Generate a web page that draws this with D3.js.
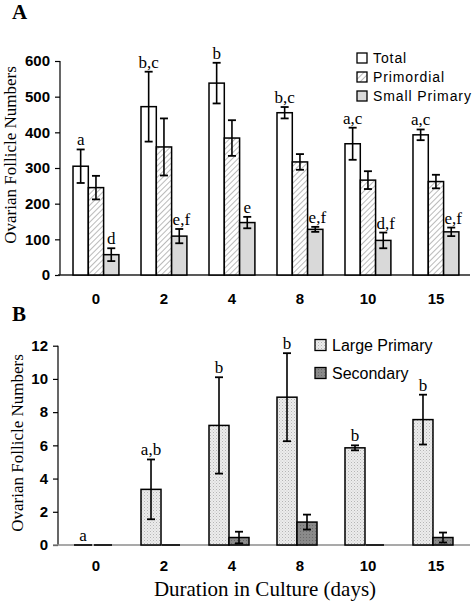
<!DOCTYPE html>
<html><head><meta charset="utf-8">
<script src="https://cdn.jsdelivr.net/npm/d3@7"></script>
<style>
body{margin:0;background:#fff;}
svg{display:block;}
</style></head>
<body><div id="chart"></div>
<script>
const days = ["0","2","4","8","10","15"];
// Panel A
const total = [305, 472, 538, 455, 368, 393];
const totalErr = [47, 98, 57, 16, 45, 15];
const primordial = [245, 359, 384, 317, 266, 262];
const primordialErr = [33, 80, 50, 22, 25, 19];
const smallPrimary = [57, 109, 147, 128, 97, 121];
const smallPrimaryErr = [18, 20, 16, 7, 22, 12];
const totalLabels = ["a","b,c","b","b,c","a,c","a,c"];
const smallLabels = ["d","e,f","e","e,f","d,f","e,f"];
const ticksA = [0,100,200,300,400,500,600];
// Panel B
const largePrimary = [0, 3.35, 7.2, 8.9, 5.85, 7.55];
const largePrimaryErr = [0, 1.8, 2.9, 2.65, 0.15, 1.5];
const secondary = [0, 0, 0.45, 1.38, 0, 0.45];
const secondaryErr = [0, 0, 0.35, 0.45, 0, 0.3];
const largeLabels = ["a","a,b","b","b","b","b"];
const ticksB = [0,2,4,6,8,10,12];

const W = 476, H = 606;
const svg = d3.select("#chart").append("svg").attr("width", W).attr("height", H);
const serif = '"Liberation Serif","Times New Roman",serif';
const sans = '"Liberation Sans",Arial,sans-serif';

const defs = svg.append("defs");
const hatch = defs.append("pattern").attr("id","hatch").attr("patternUnits","userSpaceOnUse")
  .attr("width",4).attr("height",4).attr("patternTransform","rotate(45)");
hatch.append("rect").attr("width",4).attr("height",4).attr("fill","#fff");
hatch.append("line").attr("x1",0).attr("y1",0).attr("x2",0).attr("y2",4).attr("stroke","#8c8c8c").attr("stroke-width",1.2);
const dots = defs.append("pattern").attr("id","dots").attr("patternUnits","userSpaceOnUse").attr("width",3).attr("height",3);
dots.append("rect").attr("width",3).attr("height",3).attr("fill","#ececec");
dots.append("rect").attr("x",0).attr("y",0).attr("width",1).attr("height",1).attr("fill","#b5b5b5");
dots.append("rect").attr("x",1.5).attr("y",1.5).attr("width",1).attr("height",1).attr("fill","#c8c8c8");
const dark = defs.append("pattern").attr("id","dark").attr("patternUnits","userSpaceOnUse").attr("width",3).attr("height",3);
dark.append("rect").attr("width",3).attr("height",3).attr("fill","#8a8a8a");
dark.append("rect").attr("x",0).attr("y",0).attr("width",1).attr("height",1).attr("fill","#6a6a6a");

const x = d3.scaleBand().domain(days).range([62, 470]).paddingInner(0.3235).paddingOuter(0.162);

function panel(cfg){
  const g = svg.append("g");
  const y = d3.scaleLinear().domain(cfg.domain).range(cfg.range);
  // y axis
  const ax = g.append("g").attr("transform",`translate(${cfg.axisX},0)`)
    .call(d3.axisLeft(y).tickValues(cfg.ticks).tickSize(5).tickPadding(5).tickFormat(d3.format("d")));
  ax.select(".domain").attr("stroke","#000").attr("stroke-width",1.2).attr("d",`M0,${y(cfg.domain[1])}V${y(0)}`);
  ax.selectAll(".tick line").attr("stroke","#000").attr("stroke-width",1.2);
  ax.selectAll(".tick text").attr("font-size",15).attr("font-weight","bold").attr("fill","#000").attr("font-family",sans);
  // x axis
  const xa = g.append("g").attr("transform",`translate(0,${y(0)})`)
    .call(d3.axisBottom(x).tickSize(0).tickPadding(cfg.xPad));
  xa.select(".domain").attr("stroke",cfg.xAxisColor).attr("stroke-width",1.5).attr("d",`M${cfg.xStart},0H470`);
  xa.selectAll(".tick text").attr("font-size",15).attr("font-weight","bold").attr("fill","#000").attr("font-family",sans);
  const bw = cfg.barW;
  cfg.series.forEach((s, si) => {
    const sg = g.append("g");
    days.forEach((d, i) => {
      const x0 = x(d) + si*bw;
      const v = s.values[i];
      if (v > 0) {
        sg.append("rect").attr("x",x0).attr("y",y(v)).attr("width",bw).attr("height",y(0)-y(v))
          .attr("fill",s.fill).attr("stroke","#000").attr("stroke-width",1.5);
      } else {
        sg.append("line").attr("x1",x0+1).attr("x2",x0+bw-1).attr("y1",y(0)).attr("y2",y(0))
          .attr("stroke","#000").attr("stroke-width",1.6);
      }
      const e = s.err[i];
      if (e > 0) {
        const cx = x0 + bw/2;
        sg.append("line").attr("x1",cx).attr("x2",cx).attr("y1",y(v+e)).attr("y2",y(v-e)).attr("stroke","#000").attr("stroke-width",1.6);
        [v+e, v-e].forEach(t => sg.append("line").attr("x1",cx-4).attr("x2",cx+4).attr("y1",y(t)).attr("y2",y(t)).attr("stroke","#000").attr("stroke-width",1.8));
      }
      if (s.labels) {
        const multi = s.labels[i].length > 1 && s.labelStart;
        sg.append("text").attr("x", multi ? x0 + 1 : x0 + bw/2)
          .attr("y", y(v + e) - 4).attr("text-anchor", multi ? "start" : "middle")
          .attr("font-family",serif).attr("font-size",17).text(s.labels[i]);
      }
    });
  });
  // y title
  g.append("text").attr("transform",`translate(${cfg.titleX},${cfg.titleY}) rotate(-90)`)
    .attr("text-anchor","middle").attr("font-family",serif).attr("font-size",17).text("Ovarian Follicle Numbers");
  // panel letter
  g.append("text").attr("x",12).attr("y",cfg.letterY).attr("font-family",serif).attr("font-weight","bold")
    .attr("font-size",21).text(cfg.letter);
  // legend
  const lg = g.append("g");
  cfg.series.forEach((s, si) => {
    const ly = cfg.legY + si*cfg.legStep;
    lg.append("rect").attr("x",cfg.legX).attr("y",ly - cfg.box/2).attr("width",cfg.box).attr("height",cfg.box)
      .attr("fill",s.fill).attr("stroke","#000").attr("stroke-width",1.3);
    lg.append("text").attr("x",cfg.legX + cfg.box + 6).attr("y",ly).attr("dy","0.35em")
      .attr("font-family",sans).attr("font-size",cfg.legFont).attr("letter-spacing",cfg.legLS).text(s.name);
  });
}

panel({
  domain:[0,600], range:[275,61], ticks:ticksA, axisX:60, xStart:58, xAxisColor:"#222", xPad:18,
  barW:15.3, titleX:16, titleY:155, letter:"A", letterY:19,
  legX:357, legY:58, legStep:19, box:10, legFont:14, legLS:0.9,
  series:[
    {name:"Total", values:total, err:totalErr, fill:"#fff", labels:totalLabels},
    {name:"Primordial", values:primordial, err:primordialErr, fill:"url(#hatch)"},
    {name:"Small Primary", values:smallPrimary, err:smallPrimaryErr, fill:"#d9d9d9", labels:smallLabels, labelStart:true}
  ]
});
panel({
  domain:[0,12], range:[545,345.7], ticks:ticksB, axisX:58, xStart:53, xAxisColor:"#8c8c8c", xPad:15,
  barW:20, titleX:23, titleY:443, letter:"B", letterY:321,
  legX:315, legY:345, legStep:28, box:11, legFont:16, legLS:0,
  series:[
    {name:"Large Primary", values:largePrimary, err:largePrimaryErr, fill:"url(#dots)", labels:largeLabels},
    {name:"Secondary", values:secondary, err:secondaryErr, fill:"url(#dark)"}
  ]
});
svg.append("text").attr("x",265).attr("y",596).attr("text-anchor","middle")
  .attr("font-family",serif).attr("font-size",21).text("Duration in Culture (days)");
</script></body></html>
